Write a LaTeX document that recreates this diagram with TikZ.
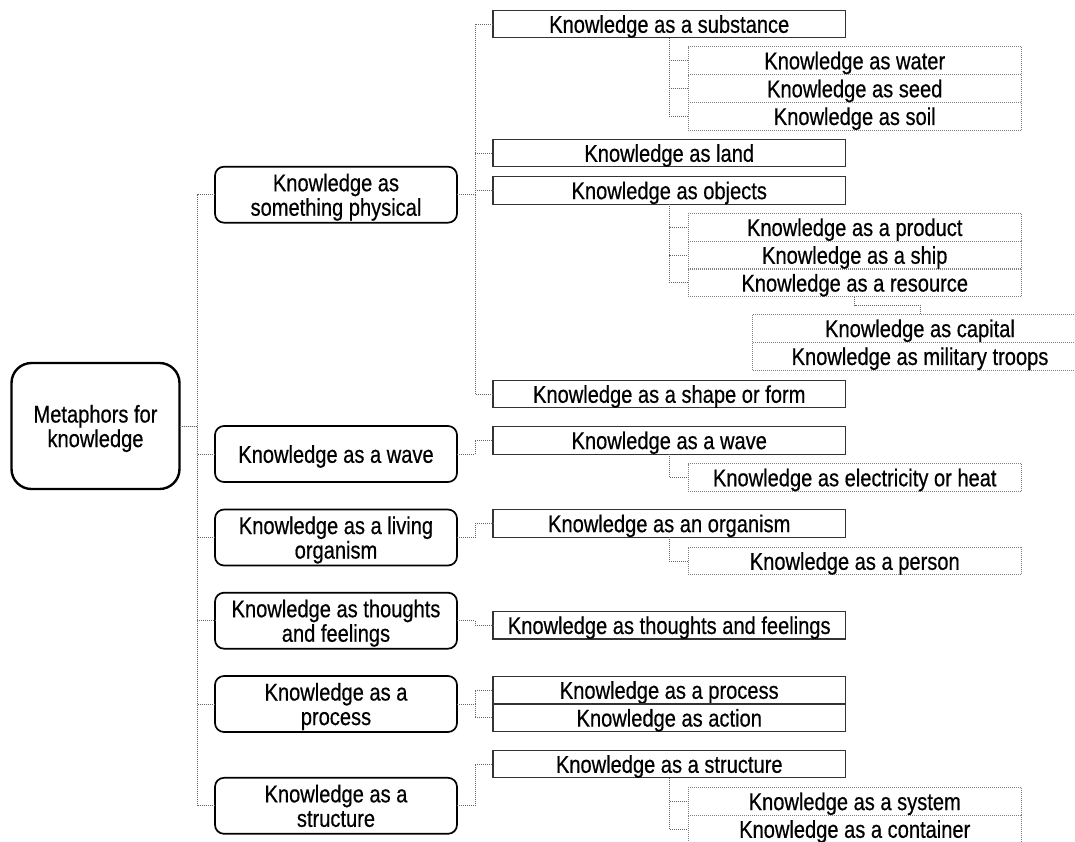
\documentclass[tikz,border=0pt]{standalone}
\usepackage{fontspec}
\setmainfont[FakeStretch=0.83,FakeBold=0.5]{Liberation Sans}
\begin{document}
\begin{tikzpicture}[x=1pt,y=-1pt,
  every node/.style={font=\fontsize{24.2}{24.5}\selectfont, inner sep=0pt, outer sep=0pt, text depth=0pt, align=center},
  rootbox/.style={draw=black, line width=2.4pt, rounded corners=20pt, minimum width=168pt, minimum height=126pt},
  catbox/.style={draw=black, line width=1.7pt, rounded corners=9pt, minimum width=242pt, minimum height=56pt},
  subbox/.style={draw=black!80, line width=1.2pt, minimum width=352.5pt, minimum height=27.6pt},
  leafbox/.style={draw=black!50, line width=0.9pt, dash pattern=on 1pt off 1pt, minimum width=333.5pt, minimum height=27.7pt},
  deepbox/.style={draw=black!50, line width=0.9pt, dash pattern=on 1pt off 1pt, minimum width=334.6pt, minimum height=27.9pt},
  conn/.style={draw=black!60, line width=0.9pt, dash pattern=on 1pt off 1pt},
]
\useasboundingbox (0,0) rectangle (1075,841);
\clip (0,0) rectangle (1075,841);

% root and categories
\node[rootbox] (root) at (95.5,426) {Metaphors for\\knowledge};
\node[catbox] (c1) at (336,194.7) {Knowledge as\\something physical};
\node[catbox] (c2) at (336,454) {Knowledge as a wave};
\node[catbox] (c3) at (336,537.5) {Knowledge as a living\\organism};
\node[catbox] (c4) at (336,620.7) {Knowledge as thoughts\\and feelings};
\node[catbox] (c5) at (336,704) {Knowledge as a\\process};
\node[catbox] (c6) at (336,805.8) {Knowledge as a\\structure};

% level 2
\node[subbox] (s1) at (669.25,24) {Knowledge as a substance};
\node[subbox] (s2) at (669.25,153) {Knowledge as land};
\node[subbox] (s3) at (669.25,190.4) {Knowledge as objects};
\node[subbox] (s4) at (669.25,394) {Knowledge as a shape or form};
\node[subbox] (s5) at (669.25,440.3) {Knowledge as a wave};
\node[subbox] (s6) at (669.25,523.4) {Knowledge as an organism};
\node[subbox] (s7) at (669.25,625.2) {Knowledge as thoughts and feelings};
\node[subbox] (s8) at (669.25,690) {Knowledge as a process};
\node[subbox] (s9) at (669.25,717.8) {Knowledge as action};
\node[subbox] (s10) at (669.25,764) {Knowledge as a structure};

% level 3
\node[leafbox] (t1) at (854.75,60.5) {Knowledge as water};
\node[leafbox] (t2) at (854.75,88.5) {Knowledge as seed};
\node[leafbox] (t3) at (854.75,116.2) {Knowledge as soil};
\node[leafbox] (t4) at (854.75,227.2) {Knowledge as a product};
\node[leafbox] (t5) at (854.75,255) {Knowledge as a ship};
\node[leafbox] (t6) at (854.75,282.8) {Knowledge as a resource};
\node[leafbox] (t7) at (854.75,477.5) {Knowledge as electricity or heat};
\node[leafbox] (t8) at (854.75,561) {Knowledge as a person};
\node[leafbox] (t9) at (854.75,801.3) {Knowledge as a system};
\node[leafbox] (t10) at (854.75,829) {Knowledge as a container};

% level 4
\node[deepbox] (u1) at (920,328.3) {Knowledge as capital};
\node[deepbox] (u2) at (920,356.2) {Knowledge as military troops};

% connectors
\foreach \c in {c1,c2,c3,c4,c5,c6}
  \draw[conn] (root.east) -- ++(17.5,0) |- (\c.west);
\foreach \s in {s1,s2,s3,s4}
  \draw[conn] (c1.east) -- ++(18,0) |- (\s.west);
\draw[conn] (c2.east) -- ++(18,0) |- (s5.west);
\draw[conn] (c3.east) -- ++(18,0) |- (s6.west);
\draw[conn] (c4.east) -- ++(18,0) |- (s7.west);
\foreach \s in {s8,s9}
  \draw[conn] (c5.east) -- ++(18,0) |- (\s.west);
\draw[conn] (c6.east) -- ++(18,0) |- (s10.west);

\foreach \t in {t1,t2,t3}
  \draw[conn] (s1.south) |- (\t.west);
\foreach \t in {t4,t5,t6}
  \draw[conn] (s3.south) |- (\t.west);
\draw[conn] (s5.south) |- (t7.west);
\draw[conn] (s6.south) |- (t8.west);
\foreach \t in {t9,t10}
  \draw[conn] (s10.south) |- (\t.west);
\draw[conn] (t6.south) -- ++(0,8.5) -| (u1.north);
\end{tikzpicture}
\end{document}
